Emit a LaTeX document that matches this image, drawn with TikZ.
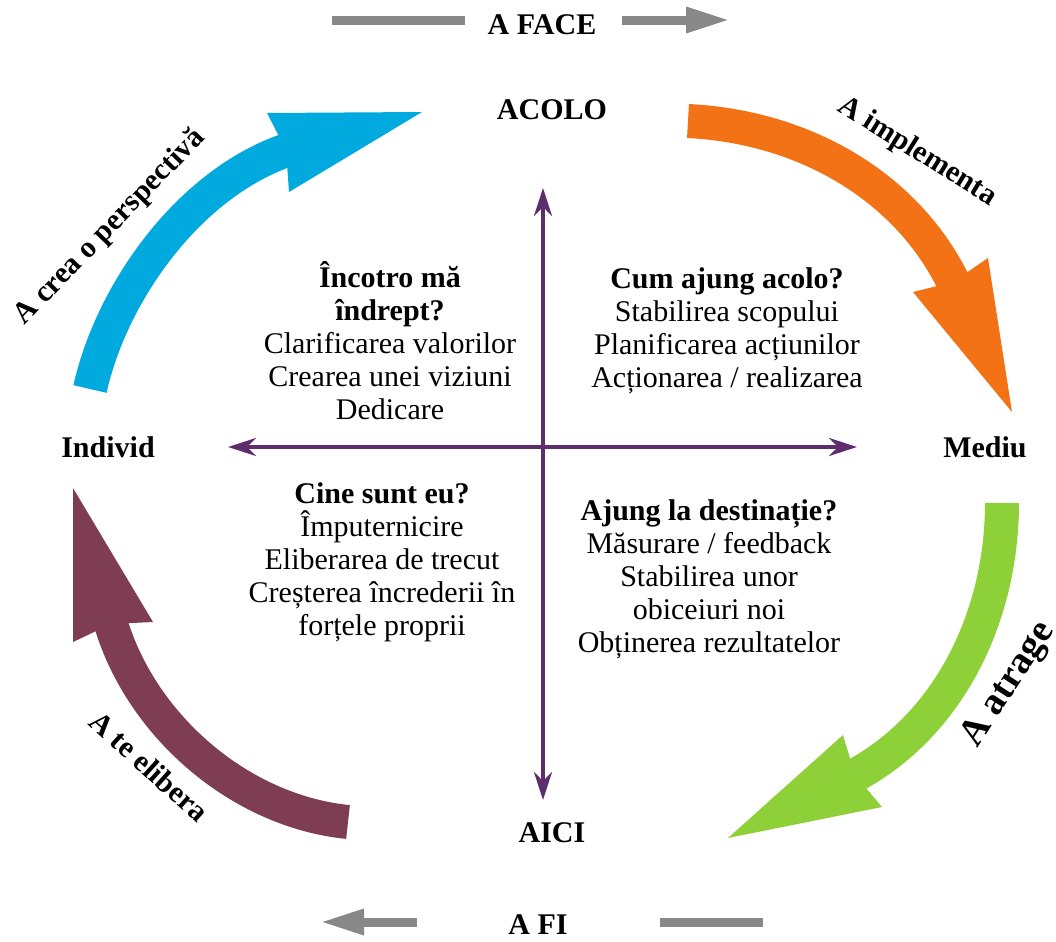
\documentclass[tikz,border=0pt]{standalone}
\usepackage{fontspec}
\setmainfont{Liberation Serif}
\usetikzlibrary{arrows.meta}
\definecolor{cblue}{RGB}{0,169,222}
\definecolor{corange}{RGB}{244,114,22}
\definecolor{cgreen}{RGB}{141,208,55}
\definecolor{cmaroon}{RGB}{126,61,82}
\definecolor{axpurple}{RGB}{94,45,110}
\definecolor{wgray}{RGB}{136,136,136}
\newcommand{\bodysize}{\fontsize{15}{16.5}\selectfont}
\tikzset{
  pole/.style={font=\bodysize\bfseries, inner sep=0pt},
  quad/.style={font=\bodysize, align=center, inner sep=0pt},
  side/.style={font=\bodysize\bfseries, inner sep=0pt},
  axis/.style={axpurple, line width=2pt, {Stealth[length=14pt, width=9pt]}-{Stealth[length=14pt, width=9pt]}},
  shaft/.style={line width=17pt},
  way/.style={wgray, line width=4.5pt},
  waytip/.style={-{Triangle[length=22pt, width=12pt]}}
}
\begin{document}
\begin{tikzpicture}[x=0.5pt, y=-0.5pt]
  \useasboundingbox (0,0) rectangle (1056,942);
  % poles
  \node[pole] (acolo) at (552,110) {ACOLO};
  \node[pole] (aici) at (552,833) {AICI};
  \node[pole] (individ) at (108,447) {Individ};
  \node[pole] (mediu) at (985,447) {Mediu};
  % axes
  \coordinate (up) at (543,188);
  \coordinate (down) at (543,800);
  \coordinate (left) at (228,447);
  \coordinate (right) at (857,447);
  \draw[axis] (up) -- (down);
  \draw[axis] (left) -- (right);
  % quadrants
  \node[quad] (incotro) at (390,341) {\textbf{Încotro mă}\\\textbf{îndrept?}\\Clarificarea valorilor\\Crearea unei viziuni\\Dedicare};
  \node[quad] (cum) at (727,331) {\textbf{Cum ajung acolo?}\\Stabilirea scopului\\Planificarea acțiunilor\\Acționarea / realizarea};
  \node[quad] (cine) at (382,562) {\textbf{Cine sunt eu?}\\Împuternicire\\Eliberarea de trecut\\Creșterea încrederii în\\forțele proprii};
  \node[quad] (ajung) at (709,579) {\textbf{Ajung la destinație?}\\Măsurare / feedback\\Stabilirea unor\\obiceiuri noi\\Obținerea rezultatelor};
  % cycle arrows
  \draw[shaft, cblue] (90,389) .. controls (112,290) and (194,175) .. (300,146);
  \fill[cblue] (267,113) -- (422,112) -- (289,192) -- (286,150) -- cycle;
  \draw[shaft, corange] (688,121) .. controls (808,127) and (912,190) .. (957,290);
  \fill[corange] (913,292) -- (1012,412) -- (988,258) -- (953,282) -- cycle;
  \draw[shaft, cgreen] (1002,503) .. controls (1002,620) and (946,730) .. (848,779);
  \fill[cgreen] (843,735) -- (728,838) -- (882,807) -- (855,775) -- cycle;
  \draw[shaft, cmaroon] (348,822) .. controls (238,811) and (138,723) .. (109,617);
  \fill[cmaroon] (73,642) -- (73,488) -- (153,622) -- (111,624) -- cycle;
  % cycle labels
  \node[side, rotate=46] (crea) at (110,227) {A crea o perspectivă};
  \node[side, rotate=-32] (impl) at (917,152) {A implementa};
  \node[side, rotate=57, font=\fontsize{19}{21}\selectfont\bfseries] (atrage) at (1009,685) {A atrage};
  \node[side, rotate=-42] (elib) at (149,766) {A te elibera};
  % do / be
  \node[pole] (face) at (542,25) {A FACE};
  \node[pole] (fi) at (538,925) {A FI};
  \coordinate (f1) at (332,20);
  \coordinate (f2) at (465,20);
  \coordinate (f3) at (622,20);
  \coordinate (f4) at (730,20);
  \coordinate (b1) at (417,922);
  \coordinate (b2) at (320,922);
  \coordinate (b3) at (660,922);
  \coordinate (b4) at (763,922);
  \draw[way] (f1) -- (f2);
  \draw[way, waytip] (f3) -- (f4);
  \draw[way, waytip] (b1) -- (b2);
  \draw[way] (b3) -- (b4);
\end{tikzpicture}
\end{document}
